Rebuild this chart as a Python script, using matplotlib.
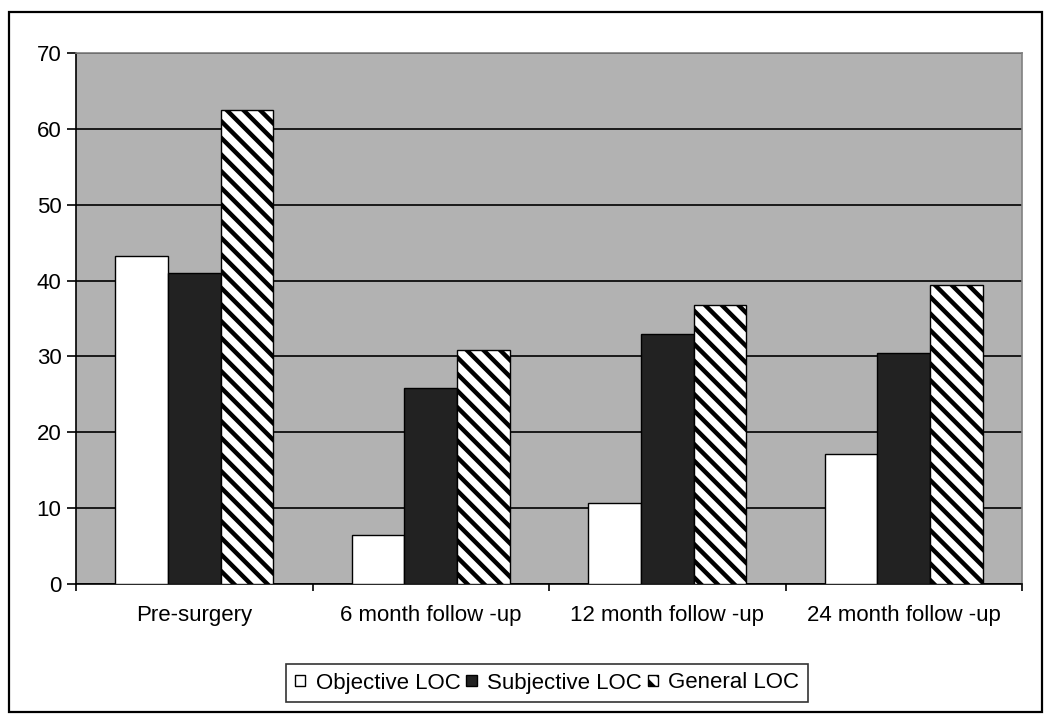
import matplotlib
matplotlib.use("Agg")
import matplotlib.pyplot as plt
import numpy as np
from matplotlib.patches import Rectangle
from matplotlib.legend_handler import HandlerPatch

categories = ["Pre-surgery", "6 month follow -up", "12 month follow -up", "24 month follow -up"]
series_names = ["Objective LOC", "Subjective LOC", "General LOC"]
objective = [43.3, 6.4, 10.7, 17.2]
subjective = [41.0, 25.8, 33.0, 30.5]
general = [62.5, 30.9, 36.8, 39.4]
yticks = [0, 10, 20, 30, 40, 50, 60, 70]

plt.rcParams['font.family'] = ['Liberation Sans', 'DejaVu Sans']
plt.rcParams['hatch.linewidth'] = 3.2
plt.rcParams['hatch.color'] = 'black'

fig = plt.figure(figsize=(10.5, 7.2), dpi=100)
ax = fig.add_axes([76/1050, 1 - 584/720, (1022 - 76)/1050, (584 - 53)/720])
ax.set_facecolor('#b2b2b2')

x = np.arange(len(categories))
w = 0.222
b1 = ax.bar(x - w, objective, w, color='white', edgecolor='black', linewidth=1.0, label=series_names[0], zorder=3)
b2 = ax.bar(x, subjective, w, color='#222222', edgecolor='black', linewidth=1.0, label=series_names[1], zorder=3)
b3 = ax.bar(x + w, general, w, color='white', edgecolor='black', linewidth=1.0, hatch='\\\\', label=series_names[2], zorder=3)

ax.set_ylim(0, 70)
ax.set_xlim(-0.5, len(categories) - 0.5)
ax.set_yticks(yticks)
ax.yaxis.grid(True, color='black', linewidth=1.2, zorder=1)
ax.set_axisbelow(True)

ax.set_xticks(x)
ax.set_xticklabels(categories, fontsize=16)
ax.set_xticks(np.arange(-0.5, len(categories), 1.0), minor=True)
ax.tick_params(axis='x', which='major', length=0, pad=15)
ax.tick_params(axis='x', which='minor', length=5, width=1.2, direction='out')
ax.tick_params(axis='y', labelsize=16, length=6.5, width=1.2, pad=4, direction='out')

for s in ['top', 'right']:
    ax.spines[s].set_color('#808080')
    ax.spines[s].set_linewidth(1.2)
for s in ['left', 'bottom']:
    ax.spines[s].set_color('black')
    ax.spines[s].set_linewidth(1.2)


def small_square(legend, orig_handle, xdescent, ydescent, width, height, fontsize):
    size = 0.48 * fontsize
    return Rectangle((-xdescent + (width - size) / 2, -ydescent + (height - size) / 2), size, size)


handler = HandlerPatch(patch_func=small_square)
h1, h2, h3 = b1.patches[0], b2.patches[0], b3.patches[0]
leg = fig.legend(handles=[h1, h2, h3], labels=series_names, loc='center',
                 bbox_to_anchor=(547/1050, 1 - 683/720), ncol=3, fontsize=16,
                 frameon=True, fancybox=False, edgecolor='black',
                 handlelength=0.5, handleheight=0.7, handletextpad=0.45,
                 columnspacing=0.25, borderpad=0.4, borderaxespad=0,
                 handler_map={h1: handler, h2: handler, h3: handler})
leg.get_frame().set_linewidth(1.2)
for p in leg.get_patches():
    p.set_linewidth(1.0)

fig.patches.append(Rectangle((9/1050, 1 - 712/720), (1042 - 9)/1050, (712 - 12)/720,
                             transform=fig.transFigure, fill=False,
                             edgecolor='black', linewidth=1.6))

fig.savefig('out.png', dpi=100, facecolor='white')
